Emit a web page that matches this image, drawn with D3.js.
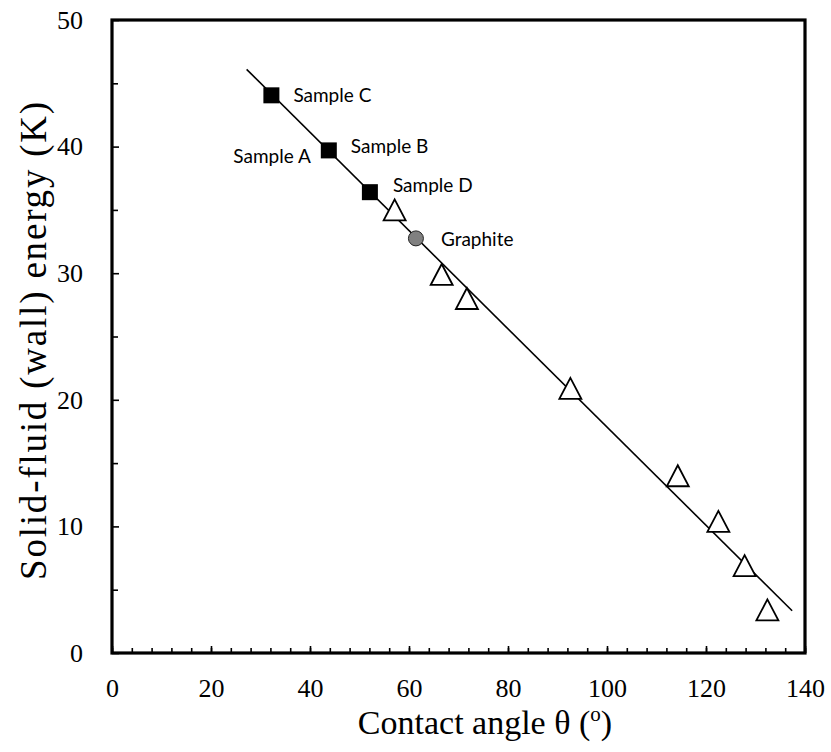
<!DOCTYPE html>
<html>
<head>
<meta charset="utf-8">
<script src="https://cdn.jsdelivr.net/npm/d3@7"></script>
<style>
  html, body { margin: 0; padding: 0; background: #fff; }
  svg { display: block; }
</style>
</head>
<body>
<svg id="chart" width="831" height="752"></svg>
<script>
// Samples with measured contact angle (filled squares)
const sampleNames  = ["Sample C", "Sample A", "Sample D"];
const sampleAngles = [32.2, 43.8, 52.1];
const sampleEnergy = [44.05, 39.7, 36.4];

// Simulation points (open triangles)
const simAngles = [57.1, 66.6, 71.7, 92.6, 114.3, 122.5, 127.8, 132.4];
const simEnergy = [35.0, 29.9, 28.0, 20.9, 14.0, 10.4, 6.9, 3.4];

// Graphite reference point (grey circle)
const graphiteAngle  = [61.4];
const graphiteEnergy = [32.75];

// Linear fit: energy = intercept + slope * angle
const fitSlope = -0.388;
const fitIntercept = 56.65;
const fitRange = [27.2, 137.4];

// Axis ticks
const xMajorTicks = [0, 20, 40, 60, 80, 100, 120, 140];
const xMinorTicks = d3.range(0, 141, 4);
const yMajorTicks = [0, 10, 20, 30, 40, 50];
const yMinorTicks = [5, 15, 25, 35, 45];

// Point annotations: [text, anchor angle, anchor energy, dx, dy, text-anchor]
const labels = [
  ["Sample C", 32.2, 44.05, 22, 0, "start"],
  ["Sample A", 43.8, 39.7, -18, 6, "end"],
  ["Sample B", 43.8, 39.7, 22, -4, "start"],
  ["Sample D", 52.1, 36.4, 23, -7, "start"],
  ["Graphite", 61.4, 32.75, 25, 1, "start"]
];

const svg = d3.select("#chart");
const plotLeft = 112, plotRight = 805, plotTop = 20, plotBottom = 653;

const x = d3.scaleLinear().domain([0, 140]).range([plotLeft, plotRight]);
const y = d3.scaleLinear().domain([0, 50]).range([plotBottom, plotTop]);

const serif = "'Liberation Serif', 'Times New Roman', serif";
const sans = "Lato, 'Open Sans', sans-serif";

// Bottom axis: minor ticks, then majors with labels
svg.append("g")
  .attr("transform", `translate(0,${plotBottom})`)
  .call(d3.axisBottom(x).tickValues(xMinorTicks).tickSize(-5).tickFormat(""))
  .call(g => g.select(".domain").remove())
  .call(g => g.selectAll("line").attr("stroke", "#000").attr("stroke-width", 1.6));

svg.append("g")
  .attr("transform", `translate(0,${plotBottom})`)
  .call(d3.axisBottom(x).tickValues(xMajorTicks).tickSize(-7).tickPadding(26).tickFormat(d3.format("d")))
  .call(g => g.select(".domain").remove())
  .call(g => g.selectAll("line").attr("stroke", "#000").attr("stroke-width", 1.6))
  .call(g => g.selectAll("text").attr("font-family", serif).attr("font-size", 26).attr("fill", "#000"));

// Left axis
svg.append("g")
  .attr("transform", `translate(${plotLeft},0)`)
  .call(d3.axisLeft(y).tickValues(yMinorTicks).tickSize(-6).tickFormat(""))
  .call(g => g.select(".domain").remove())
  .call(g => g.selectAll("line").attr("stroke", "#000").attr("stroke-width", 1.6));

svg.append("g")
  .attr("transform", `translate(${plotLeft},0)`)
  .call(d3.axisLeft(y).tickValues(yMajorTicks).tickSize(-7).tickPadding(29).tickFormat(d3.format("d")))
  .call(g => g.select(".domain").remove())
  .call(g => g.selectAll("line").attr("stroke", "#000").attr("stroke-width", 1.6))
  .call(g => g.selectAll("text").attr("font-family", serif).attr("font-size", 26).attr("fill", "#000"));

// Plot frame
svg.append("rect")
  .attr("x", plotLeft).attr("y", plotTop)
  .attr("width", plotRight - plotLeft).attr("height", plotBottom - plotTop)
  .attr("fill", "none").attr("stroke", "#000").attr("stroke-width", 3.2);

// Fit line
svg.append("line")
  .attr("x1", x(fitRange[0])).attr("y1", y(fitIntercept + fitSlope * fitRange[0]))
  .attr("x2", x(fitRange[1])).attr("y2", y(fitIntercept + fitSlope * fitRange[1]))
  .attr("stroke", "#000").attr("stroke-width", 1.6);

// Open triangle marker, 22 wide and 21 tall, centred on its bounding box
const triangleShape = {
  draw(ctx) {
    ctx.moveTo(0, -10.5);
    ctx.lineTo(11, 10.5);
    ctx.lineTo(-11, 10.5);
    ctx.closePath();
  }
};
const tri = d3.symbol().type(triangleShape);
svg.append("g").selectAll("path")
  .data(simAngles.map((a, i) => [a, simEnergy[i]]))
  .join("path")
  .attr("d", tri)
  .attr("transform", d => `translate(${x(d[0])},${y(d[1])})`)
  .attr("fill", "#fff").attr("stroke", "#000").attr("stroke-width", 1.8);

// Squares
const sq = 16;
svg.append("g").selectAll("rect")
  .data(sampleAngles.map((a, i) => [a, sampleEnergy[i]]))
  .join("rect")
  .attr("x", d => x(d[0]) - sq / 2).attr("y", d => y(d[1]) - sq / 2)
  .attr("width", sq).attr("height", sq)
  .attr("fill", "#000");

// Graphite
svg.append("g").selectAll("circle")
  .data(graphiteAngle.map((a, i) => [a, graphiteEnergy[i]]))
  .join("circle")
  .attr("cx", d => x(d[0])).attr("cy", d => y(d[1]))
  .attr("r", 7.5)
  .attr("fill", "#808080").attr("stroke", "#222").attr("stroke-width", 1);

// Annotations
svg.append("g").selectAll("text")
  .data(labels)
  .join("text")
  .attr("x", d => x(d[1]) + d[3])
  .attr("y", d => y(d[2]) + d[4])
  .attr("dy", "0.35em")
  .attr("text-anchor", d => d[5])
  .attr("font-family", sans).attr("font-size", 19).attr("fill", "#000")
  .text(d => d[0]);

// Axis titles
const xt = svg.append("text")
  .attr("x", 485).attr("y", 734)
  .attr("text-anchor", "middle")
  .attr("font-family", serif).attr("font-size", 34).attr("fill", "#000");
xt.append("tspan").text("Contact angle \u03b8 (");
xt.append("tspan").attr("font-size", 21).attr("dy", -13).text("o");
xt.append("tspan").attr("dy", 13).text(")");

svg.append("text")
  .attr("transform", `translate(46,340) rotate(-90)`)
  .attr("text-anchor", "middle")
  .attr("font-family", serif).attr("font-size", 37).attr("letter-spacing", 1.8)
  .attr("fill", "#000")
  .text("Solid-fluid (wall) energy (K)");
</script>
</body>
</html>
